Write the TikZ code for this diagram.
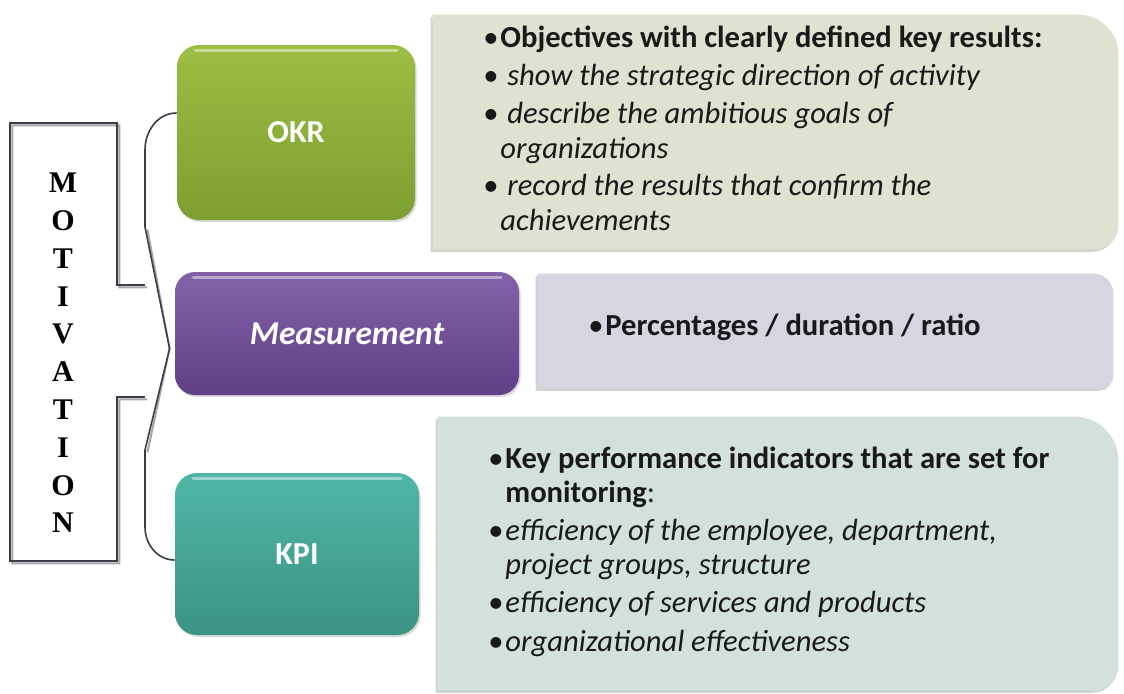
\documentclass[tikz,border=0pt]{standalone}
\usepackage{fontspec}
\setmainfont{Carlito}
\newfontfamily\motivfont{Liberation Serif}
\usetikzlibrary{shadows,positioning}
\definecolor{okrtop}{HTML}{9CBE43}
\definecolor{okrbot}{HTML}{7C9F31}
\definecolor{meatop}{HTML}{8362A9}
\definecolor{meabot}{HTML}{603F89}
\definecolor{kpitop}{HTML}{50B6A6}
\definecolor{kpibot}{HTML}{3B9384}
\definecolor{okrfill}{HTML}{DEE2D1}
\definecolor{meafill}{HTML}{D8D5E1}
\definecolor{kpifill}{HTML}{D2E1DE}
\definecolor{framecol}{HTML}{3C3C4A}
\newcommand{\bul}{\makebox[8.5pt][l]{\textbullet}}
\begin{document}
\begin{tikzpicture}[x=.5pt,y=-.5pt,
    catbox/.style={rounded corners=11pt,text=white,inner sep=0pt,
        font=\fontsize{16}{18}\selectfont\bfseries,
        drop shadow={shadow xshift=.8pt,shadow yshift=-1pt,opacity=.3},
        path picture={\draw[white,opacity=.45,line width=1.5pt,line cap=round]
            ([xshift=9pt,yshift=-2.5pt]path picture bounding box.north west)
            -- ([xshift=-9pt,yshift=-2.5pt]path picture bounding box.north east);}},
    infobox/.style={inner sep=0pt},
    infotext/.style={anchor=north west,inner sep=0pt,align=left,text=black!90},
    frame/.style={draw=framecol,line width=1pt},
    ]
    \useasboundingbox (0,0) rectangle (1124,693);
    % boxes on the left
    \node[catbox,top color=okrtop,bottom color=okrbot,
        minimum width=119pt,minimum height=87.5pt] (okr) at (296,132.5) {OKR};
    \node[catbox,top color=meatop,bottom color=meabot,rounded corners=10pt,
        font=\fontsize{16.7}{18}\selectfont\bfseries\itshape,
        minimum width=172pt,minimum height=61.5pt] (measure) at (347,333.5) {Measurement};
    \node[catbox,top color=kpitop,bottom color=kpibot,
        minimum width=122pt,minimum height=81pt] (kpi) at (297,554) {KPI};
    % boxes on the right
    \node[infobox,minimum width=342.5pt,minimum height=117pt] (okrinfo) at (775.5,132) {};
    \node[infobox,minimum width=287.5pt,minimum height=57pt] (meainfo) at (825.5,331) {};
    \node[infobox,minimum width=340pt,minimum height=136.5pt] (kpiinfo) at (778,553.5) {};
    \fill[okrfill,drop shadow={shadow xshift=-1pt,shadow yshift=-1.2pt,opacity=.35}]
    (okrinfo.south west) -- (okrinfo.north west) -- ([xshift=-20pt]okrinfo.north east)
    arc[start angle=90,end angle=0,radius=20pt] -- ([yshift=12pt]okrinfo.south east)
    arc[start angle=0,end angle=-90,radius=12pt] -- cycle;
    \fill[meafill,drop shadow={shadow xshift=-1pt,shadow yshift=-1.2pt,opacity=.35}]
    (meainfo.south west) -- (meainfo.north west) -- ([xshift=-10pt]meainfo.north east)
    arc[start angle=90,end angle=0,radius=10pt] -- ([yshift=6pt]meainfo.south east)
    arc[start angle=0,end angle=-90,radius=6pt] -- cycle;
    \fill[kpifill,drop shadow={shadow xshift=-1pt,shadow yshift=-1.2pt,opacity=.35}]
    (kpiinfo.south west) -- (kpiinfo.north west) -- ([xshift=-22pt]kpiinfo.north east)
    arc[start angle=90,end angle=0,radius=22pt] -- ([yshift=12pt]kpiinfo.south east)
    arc[start angle=0,end angle=-90,radius=12pt] -- cycle;
    \node[infotext,font=\fontsize{15.3}{17.5}\selectfont] (okrtxt) at (483,26) {%
        \bul\textbf{Objectives with clearly defined key results:}\\[1.3pt]
        \bul\ \textit{show the strategic direction of activity}\\[1.3pt]
        \bul\ \textit{describe the ambitious goals of}\\
        \hspace*{8.5pt}\textit{organizations}\\[1.3pt]
        \bul\ \textit{record the results that confirm the}\\
        \hspace*{8.5pt}\textit{achievements}};
    \node[infotext,anchor=west,font=\fontsize{15.3}{17.5}\selectfont] (meatxt) at (588,327)
        {\bul\textbf{Percentages / duration / ratio}};
    \node[infotext,font=\fontsize{15.3}{16.75}\selectfont] (kpitxt) at (488,447) {%
        \bul\textbf{Key performance indicators that are set for}\\
        \hspace*{8.5pt}\textbf{monitoring}:\\[2.5pt]
        \bul\textit{efficiency of the employee, department,}\\
        \hspace*{8.5pt}\textit{project groups, structure}\\[2.5pt]
        \bul\textit{efficiency of services and products}\\[2.5pt]
        \bul\textit{organizational effectiveness}};
    % motivation frame
    \node[font=\motivfont\bfseries\fontsize{15}{18.9}\selectfont,align=center] (motiv) at (63,353)
        {M\\O\\T\\I\\V\\A\\T\\I\\O\\N};
    \coordinate (tip) at ([xshift=-2.5pt,yshift=-7.5pt]measure.west);
    \draw[frame,draw=gray!70,xshift=1.2pt,yshift=-1.2pt]
    (145,285) -- (117,285) -- (117,123) -- (10,123) -- (10,561) -- (117,561) -- (117,397) -- (145,397)
    (145,227) -- (tip) -- (145,450);
    \draw[frame]
    (145,285) -- (117,285) -- (117,123) -- (10,123) -- (10,561) -- (117,561) -- (117,397) -- (145,397);
    \draw[frame,line width=.8pt]
    ([yshift=9.75pt]okr.west) to[out=180,in=90] (145,150) -- (145,227) -- (tip)
    -- (145,450) -- (145,527) to[out=-90,in=180] ([yshift=-3pt]kpi.west);
\end{tikzpicture}
\end{document}
